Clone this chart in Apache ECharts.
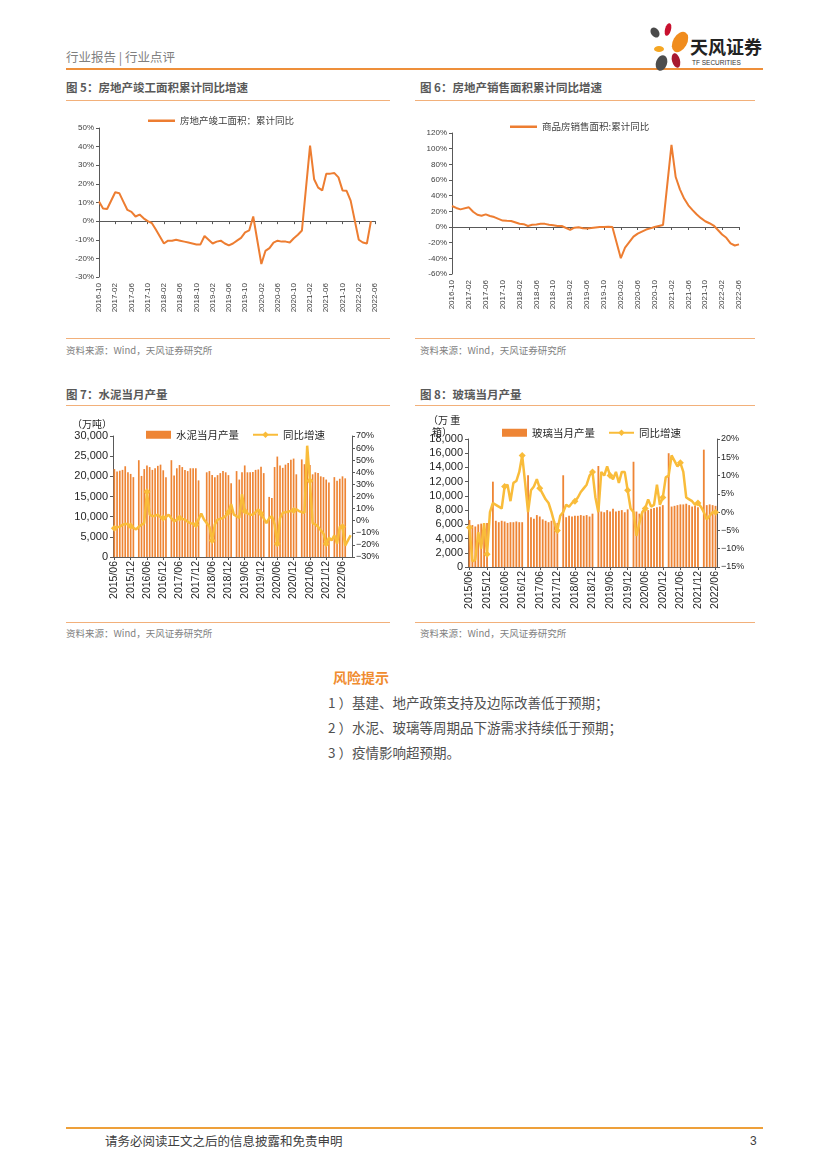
<!DOCTYPE html>
<html><head><meta charset="utf-8">
<script src="https://cdn.jsdelivr.net/npm/echarts@6/dist/echarts.min.js"></script>
<style>
html,body{margin:0;padding:0;background:#fff;}
body{width:827px;height:1169px;position:relative;overflow:hidden;font-family:"Liberation Sans","Noto Sans CJK SC",sans-serif;}
.t{position:absolute;line-height:1;white-space:nowrap;font-family:"Noto Sans CJK SC","Liberation Sans",sans-serif;}
.rule{position:absolute;height:0;}
.chart{position:absolute;}
.petal{position:absolute;border-radius:50%;}
</style></head><body>

<!-- header -->
<div class="t" style="left:66px;top:51px;font-size:12.5px;color:#7f7f7f;">行业报告&nbsp;|&nbsp;行业点评</div>
<div class="rule" style="left:66px;top:68px;width:697px;border-top:2px solid #EE8F3A;"></div>
<div class="petal" style="left:651px;top:27px;width:8px;height:11px;background:#4a4a4a;transform:rotate(-35deg);"></div>
<div class="petal" style="left:665px;top:23px;width:6px;height:13px;background:#C8102E;transform:rotate(15deg);"></div>
<div class="petal" style="left:673px;top:31px;width:14px;height:22px;background:#F08C1E;transform:rotate(30deg);"></div>
<div class="petal" style="left:654px;top:46px;width:10px;height:6px;background:#F5A623;"></div>
<div class="petal" style="left:672px;top:53px;width:8px;height:15px;background:#A81830;transform:rotate(-15deg);"></div>
<div class="petal" style="left:656px;top:55px;width:11px;height:16px;background:#4d4d4d;transform:rotate(20deg);"></div>
<div class="t" style="left:690px;top:37px;font-size:18px;font-weight:bold;color:#222;">天风证券</div>
<div class="t" style="left:692px;top:60px;font-size:6.5px;color:#333;font-family:'Liberation Sans';">TF SECURITIES</div>

<!-- titles -->
<div class="t" style="left:66px;top:82px;font-size:11.5px;font-weight:bold;color:#595959;">图 5：房地产竣工面积累计同比增速</div>
<div class="t" style="left:420px;top:82px;font-size:11.5px;font-weight:bold;color:#595959;">图 6：房地产销售面积累计同比增速</div>
<div class="rule" style="left:66px;top:100px;width:324px;border-top:1px solid #F2B07A;"></div>
<div class="rule" style="left:415px;top:100px;width:340px;border-top:1px solid #F2B07A;"></div>
<div class="rule" style="left:66px;top:338px;width:324px;border-top:1px solid #F2B07A;"></div>
<div class="rule" style="left:415px;top:338px;width:340px;border-top:1px solid #F2B07A;"></div>
<div class="t" style="left:66px;top:345.5px;font-size:9.5px;color:#7f7f7f;">资料来源：Wind，天风证券研究所</div>
<div class="t" style="left:420px;top:345.5px;font-size:9.5px;color:#7f7f7f;">资料来源：Wind，天风证券研究所</div>

<div class="t" style="left:66px;top:389px;font-size:11.5px;font-weight:bold;color:#595959;">图 7：水泥当月产量</div>
<div class="t" style="left:420px;top:389px;font-size:11.5px;font-weight:bold;color:#595959;">图 8：玻璃当月产量</div>
<div class="rule" style="left:66px;top:405px;width:324px;border-top:1px solid #F2B07A;"></div>
<div class="rule" style="left:415px;top:405px;width:340px;border-top:1px solid #F2B07A;"></div>
<div class="rule" style="left:66px;top:622px;width:324px;border-top:1px solid #F2B07A;"></div>
<div class="rule" style="left:415px;top:622px;width:340px;border-top:1px solid #F2B07A;"></div>
<div class="t" style="left:66px;top:628.5px;font-size:9.5px;color:#7f7f7f;">资料来源：Wind，天风证券研究所</div>
<div class="t" style="left:420px;top:628.5px;font-size:9.5px;color:#7f7f7f;">资料来源：Wind，天风证券研究所</div>

<div id="c5" class="chart" style="left:60px;top:105px;width:335px;height:230px;"></div>
<div id="c6" class="chart" style="left:415px;top:105px;width:345px;height:230px;"></div>
<div id="c7" class="chart" style="left:60px;top:410px;width:335px;height:210px;"></div>
<div id="c8" class="chart" style="left:415px;top:410px;width:345px;height:210px;"></div>

<div class="t" style="left:72px;top:419px;font-size:10px;color:#262626;">（万吨）</div>
<div class="t" style="left:428px;top:415px;font-size:10px;color:#262626;">（万 重</div>
<div class="t" style="left:432px;top:426.5px;font-size:10px;color:#262626;">箱）</div>

<!-- risk -->
<div class="t" style="left:333px;top:669.5px;font-size:14px;font-weight:bold;color:#F08C30;">风险提示</div>
<div class="t" style="left:328px;top:696px;font-size:13.5px;color:#505050;">1 ）基建、地产政策支持及边际改善低于预期；</div>
<div class="t" style="left:328px;top:721px;font-size:13.5px;color:#505050;">2 ）水泥、玻璃等周期品下游需求持续低于预期；</div>
<div class="t" style="left:328px;top:746px;font-size:13.5px;color:#505050;">3 ）疫情影响超预期。</div>

<!-- footer -->
<div class="rule" style="left:66px;top:1127px;width:697px;border-top:2px solid #EEA03A;"></div>
<div class="t" style="left:105px;top:1135px;font-size:12.5px;color:#404040;">请务必阅读正文之后的信息披露和免责申明</div>
<div class="t" style="left:750px;top:1135px;font-size:12px;color:#404040;font-family:'Liberation Sans';">3</div>

<script>
function months(y0, m0, y1, m1, sep) {
  const out = []; let y = y0, m = m0;
  while (y < y1 || (y === y1 && m <= m1)) {
    out.push(y + sep + String(m).padStart(2, '0'));
    m++; if (m > 12) { m = 1; y++; }
  }
  return out;
}

// ---------- data ----------
const cats5 = months(2016, 10, 2022, 6, '-');
const completedYoY = [10.5, 6.8, 6.5,
  null, 15.5, 15, 10.5, 6, 5, 2.5, 3.5, 1.5, 0, -1, -4.5,
  null, -12, -10.5, -10.5, -10, -10.5, -11, -11.5, -12, -12.5, -12.5, -8,
  null, -12, -11, -10.5, -12, -13, -12, -10.5, -9, -6, -5, 2.5,
  null, -23, -16, -14.5, -11.5, -10.5, -11, -11, -11.5, -9.2, -7.3, -5,
  null, 40.5, 22.5, 18, 16.5, 25.5, 25.5, 25.8, 23.5, 16.5, 16.3, 11,
  null, -10, -11.5, -12, 0, null];

const cats6 = months(2016, 10, 2022, 6, '-');
const salesYoY = [26.8, 24.3, 22.5,
  null, 25.1, 19.5, 15.7, 14.3, 16.1, 14.0, 12.7, 10.3, 8.2, 7.9, 7.7,
  null, 4.1, 3.6, 1.3, 2.9, 3.3, 4.2, 4.0, 2.9, 2.2, 1.4, 1.3,
  null, -3.6, -0.9, -0.3, -1.6, -1.8, -1.3, -0.6, -0.1, 0.1, 0.2, -0.1,
  null, -39.9, -26.3, -19.3, -12.3, -8.4, -5.8, -3.3, -1.8, 0.0, 1.3, 2.6,
  null, 104.9, 63.8, 48.1, 36.3, 27.7, 21.5, 15.9, 11.3, 7.3, 4.8, 1.9,
  null, -9.6, -13.8, -20.9, -23.6, -22.2];

const cats7 = months(2015, 6, 2022, 9, '/');
const cementOutput = [21800, 21200, 21400, 21600, 22500, 21000, 20600, 19800,
  null, 24000, 20100, 21800, 22700, 22300, 21600, 22000, 22600, 22900, 21500, 19800,
  null, 24000, 20200, 22000, 22800, 22300, 21600, 21300, 22000, 22000, 22000, 19000,
  null, null, 21000, 21300, 20300, 19800, 20300, 20800, 21300, 21000, 20300, 18300,
  null, 21300, 19200, 21000, 22700, 21000, 21000, 21100, 21600, 21700, 22400, 20800,
  null, 14900, 14600, 22300, 24900, 22700, 22100, 22900, 23300, 24100, 24400, 20500,
  null, 24200, 23000, 25000, 22800, 20500, 21000, 20800, 20000, 19800, 19200, 18500,
  null, 19800, 18900, 19400, 20000, 19500, null, null];
const cementYoY = [-6.3, -5.5, -4.9, -3.5, -2.6, -3, -4.3, -6, -7.1, -5, -3.4, -2,
  24, 5, 3.7, 4, 5, 3, 2.3, 3, 5, 2, -0.6, 1,
  2.3, 1.5, 0.9, -1, -2, -2.5, -3.4, 1, 6, 1, -2, -5,
  -16.3, -3, 0.9, 1.5, 2.3, 4, 7, 13.7, 5, 3.7, 2.3, 22,
  8, 6, 5, 5, 7, 9.4, 6, 2, -2, 2, 3.7, -3,
  -19, 2, 6.6, 7, 7.5, 8, 8.5, 9.4, 8, 7, 6.6, 62,
  33, -2, -3, -4.9, -8, -10.6, -19, -14, -16.3, -12, -19, -5,
  -4.9, -20.6, -16.3, -12];

const cats8 = months(2015, 6, 2022, 6, '/');
const glassOutput = [6600, 5900, 5700, 6000, 6100, 5800, 6200,
  null, 12000, 6500, 6300, 6500, 6400, 6200, 6300, 6300, 6400, 6300, 6300,
  null, 12900, 7000, 6800, 7300, 7100, 6700, 6500, 6300, 6500, 6400, 6200,
  null, 12900, 7000, 7200, 7100, 7200, 7200, 7300, 7200, 7300, 7100, 7500,
  null, 14200, 7800, 7700, 8000, 7800, 8200, 7800, 7900, 8000, 7700, 8100,
  null, 14800, 7800, 7500, 7700, 7900, 8000, 8200, 8300, 8400, 8500, 8700,
  null, 16000, 8500, 8600, 8700, 8800, 8800, 8900, 8700, 8500, 8600, 8400,
  null, 16500, 8700, 8800, 8700, 8600];
const glassYoY = [-4.2, -13.5, -13, -5.5, -10, -3, -11.5,
  0, 2.5, 2, 1.5, 1, 7, 7.5, 3, 8, 8.5, 11, 15.5,
  8, 0, 6, 7, 9, 6.5, 5, 3.5, 2.5, 0, -3, -5,
  -1, 0, 2, 1.5, 2.5, 3, 4, 5.5, 6.5, 7.5, 10, 11,
  4, 0, 11, 10, 12.5, 10, 9, 11, 8, 11, 11, 6,
  1, 0, -6.5, -3, 0, 1, 3.5, 1.5, 2, 7.5, 2, 4,
  9.5, 10, 15.5, 14, 12.5, 13.5, 11, 4, 3.5, 3, 2, 2.5,
  1.5, 0, -2, -1, 0, 0];

// ---------- styles ----------
const FONT = "'Liberation Sans','Noto Sans CJK SC',sans-serif";
const AX = '#595959';
const ORANGE = '#ED7D31';
const BAR = '#EE8535';
const GOLD = '#F9BC3A';
const pct = v => v + '%';
const pctMinus = v => (v < 0 ? '\u2212' + (-v) : v) + '%';
const thousands = v => String(v).replace(/\B(?=(\d{3})+(?!\d))/g, ',');

function lineChart(el, cats, vals, name, gridCfg, yMin, yMax, yInt, legendLeft, legendTop) {
  const c = echarts.init(document.getElementById(el), null, {renderer: 'canvas'});
  c.setOption({
    animation: false,
    textStyle: {fontFamily: FONT},
    legend: {left: legendLeft, top: legendTop, padding: 0, itemWidth: 27, itemHeight: 2.5, itemGap: 5,
      textStyle: {fontSize: 9.5, color: '#404040', fontFamily: "'Noto Sans CJK SC',sans-serif"},
      data: [{name: name, icon: 'rect'}]},
    grid: gridCfg,
    xAxis: [{
      type: 'category', data: cats, boundaryGap: false,
      axisLine: {onZero: true, lineStyle: {color: AX, width: 1}},
      axisTick: {show: true, interval: 3, length: 3, lineStyle: {color: AX}},
      axisLabel: {show: false}, splitLine: {show: false}
    }, {
      type: 'category', data: cats, boundaryGap: false, position: 'bottom',
      axisLine: {show: false, onZero: false}, axisTick: {show: false},
      axisLabel: {rotate: 90, interval: 3, fontSize: 8, color: '#404040', margin: 6},
      splitLine: {show: false}
    }],
    yAxis: {
      type: 'value', min: yMin, max: yMax, interval: yInt,
      axisLine: {show: true, lineStyle: {color: AX, width: 1}},
      axisTick: {show: true, length: 3, lineStyle: {color: AX}},
      axisLabel: {formatter: pct, fontSize: 8, color: '#404040', margin: 5},
      splitLine: {show: false}
    },
    series: [{
      name: name, type: 'line', data: vals, xAxisIndex: 0, symbol: 'none', showSymbol: false,
      connectNulls: true, lineStyle: {color: ORANGE, width: 2}, itemStyle: {color: ORANGE}
    }]
  });
}

lineChart('c5', cats5, completedYoY, '房地产竣工面积：累计同比',
  {left: 39, right: 20, top: 23, bottom: 58}, -30, 50, 10, 88, 11);
lineChart('c6', cats6, salesYoY, '商品房销售面积:累计同比',
  {left: 37, right: 21, top: 28, bottom: 61}, -60, 120, 20, 95, 17);

function comboChart(el, cats, bars, line, barName, gridCfg, lMax, lInt, rMin, rMax, rInt, legendLeft, legendTop) {
  const c = echarts.init(document.getElementById(el), null, {renderer: 'canvas'});
  c.setOption({
    animation: false,
    textStyle: {fontFamily: FONT},
    legend: {left: legendLeft, top: legendTop, padding: 0, itemWidth: 25, itemHeight: 8, itemGap: 13,
      textStyle: {fontSize: 10.5, color: '#262626', fontFamily: "'Noto Sans CJK SC',sans-serif"},
      data: [{name: barName, icon: 'rect'}, {name: '同比增速'}]},
    grid: gridCfg,
    xAxis: {
      type: 'category', data: cats, boundaryGap: true,
      axisLine: {lineStyle: {color: AX, width: 1}},
      axisTick: {show: true, alignWithLabel: true, interval: 5, length: 3, lineStyle: {color: AX}},
      axisLabel: {rotate: 90, interval: 5, fontSize: 10.5, color: '#262626', margin: 4},
      splitLine: {show: false}
    },
    yAxis: [{
      type: 'value', min: 0, max: lMax, interval: lInt,
      axisLine: {show: true, lineStyle: {color: AX, width: 1}},
      axisTick: {show: true, length: 3, lineStyle: {color: AX}},
      axisLabel: {formatter: thousands, fontSize: 11, color: '#262626', margin: 5},
      splitLine: {show: false}
    }, {
      type: 'value', min: rMin, max: rMax, interval: rInt, position: 'right',
      axisLine: {show: true, lineStyle: {color: AX, width: 1}},
      axisTick: {show: true, length: 3, lineStyle: {color: AX}},
      axisLabel: {formatter: pctMinus, fontSize: 9, color: '#262626', margin: 4},
      splitLine: {show: false}
    }],
    series: [{
      name: barName, type: 'bar', data: bars, barWidth: '62%',
      itemStyle: {color: BAR}
    }, {
      name: '同比增速', type: 'line', data: line, yAxisIndex: 1,
      symbol: 'diamond', symbolSize: 7, connectNulls: true,
      lineStyle: {color: GOLD, width: 2.5}, itemStyle: {color: GOLD}
    }]
  });
}

comboChart('c7', cats7, cementOutput, cementYoY, '水泥当月产量',
  {left: 53, right: 43, top: 26, bottom: 63}, 30000, 5000, -30, 70, 10, 86, 19.5);
comboChart('c8', cats8, glassOutput, glassYoY, '玻璃当月产量',
  {left: 53, right: 43, top: 29, bottom: 53}, 18000, 2000, -15, 20, 5, 87, 17.5);
</script>
</body></html>
